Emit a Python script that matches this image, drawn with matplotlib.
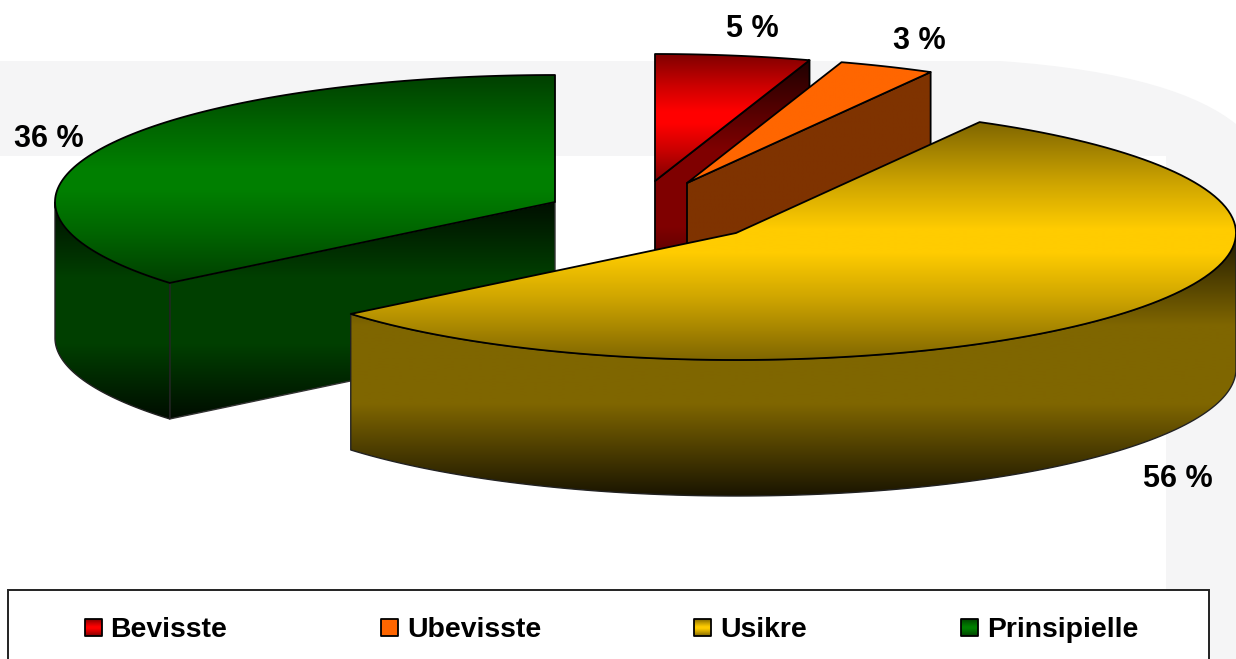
import numpy as np
import matplotlib
matplotlib.use("Agg")
import matplotlib.pyplot as plt
from matplotlib.path import Path
from matplotlib.patches import PathPatch, Rectangle

categories = ["Bevisste", "Ubevisste", "Usikre", "Prinsipielle"]
values = [5.0, 3.1, 55.9, 36.0]
colors = [(1, 0, 0), (1, 0.4, 0), (1, 0.8, 0), (0, 0.5, 0)]
centers = [(655, 181), (687, 183), (736, 233), (555, 202)]
label_pos = [(726, 37), (893, 49), (1143, 487), (14, 147)]
legend_swatch_x = [85, 381, 694, 961]
legend_text_x = [110, 407, 720, 987]
RX, RY, DEPTH = 500, 127, 136

plt.rcParams["font.family"] = ["Liberation Sans", "DejaVu Sans"]
fig = plt.figure(figsize=(12.36, 6.59), dpi=100)
ax = fig.add_axes([0, 0, 1, 1])
ax.set_axis_off()

TOP_STOPS = ([0, .25, .45, .55, .75, 1], [.5, .8, 1, 1, .8, .5])
WALL_STOPS = ([0, .35, .65, 1], [.12, .5, .5, .1])
FLAT_TOP = ([0, 1], [1, 1])
FLAT_WALL = ([0, 1], [.5, .5])


def rim(c, a0, a1, dy=0, n=120):
    ang = np.radians(np.linspace(a0, a1, n))
    return np.column_stack([c[0] + RX * np.sin(ang), c[1] - RY * np.cos(ang) + dy])


def face(pts, rgb, stops, z, lw=1.3, ec="black"):
    pts = np.asarray(pts)
    path = Path(np.vstack([pts, pts[:1]]), closed=True)
    x0, x1 = pts[:, 0].min(), pts[:, 0].max()
    y0, y1 = pts[:, 1].min(), pts[:, 1].max()
    t = np.linspace(0, 1, 256)
    m = np.interp(t, stops[0], stops[1])
    img = (m[:, None, None] * np.array(rgb)[None, None, :])
    im = ax.imshow(img, extent=(x0, x1, y1, y0), origin="upper", aspect="auto",
                   interpolation="bilinear", zorder=z)
    outline = PathPatch(path, fc="none", ec=ec, lw=lw, zorder=z + 0.1, joinstyle="round")
    ax.add_patch(outline)
    im.set_clip_path(PathPatch(path, transform=ax.transData))


# grey backdrop frame
bg = Path([(0, 61), (1000, 61), (1130, 70), (1200, 95), (1236, 124), (1236, 659),
           (1166, 659), (1166, 156), (0, 156), (0, 61)],
          [Path.MOVETO, Path.LINETO, Path.CURVE4, Path.CURVE4, Path.CURVE4, Path.LINETO,
           Path.LINETO, Path.LINETO, Path.LINETO, Path.CLOSEPOLY])
ax.add_patch(PathPatch(bg, fc="#f5f5f6", ec="none", zorder=0))

# slice angles, clockwise from twelve o'clock
edges = np.concatenate([[0], np.cumsum(values)]) * 360 / sum(values)
z_order = {3: 10, 0: 20, 1: 30, 2: 40}
for i, v in enumerate(values):
    a0, a1 = edges[i], edges[i + 1]
    c, rgb = centers[i], colors[i]
    z = z_order[i]
    top = np.vstack([[c], rim(c, a0, a1)])
    top_st = FLAT_TOP if i == 1 else TOP_STOPS
    wall_st = FLAT_WALL if i == 1 else WALL_STOPS
    # straight cut walls that face the viewer
    if i in (0, 1):
        p = rim(c, a1, a1, n=1)[0]
        face([c, p, (p[0], p[1] + DEPTH), (c[0], c[1] + DEPTH)], rgb, wall_st, z)
    if i == 3:
        p = rim(c, a0, a0, n=1)[0]
        face([c, p, (p[0], p[1] + DEPTH), (c[0], c[1] + DEPTH)], rgb, wall_st, z, lw=1.0, ec="#333333")
    # curved outer wall, only where it faces the viewer
    s0, s1 = max(a0, 90), min(a1, 270)
    if s1 > s0:
        upper = rim(c, s0, s1)
        lower = rim(c, s0, s1, dy=DEPTH)[::-1]
        face(np.vstack([upper, lower]), rgb, wall_st, z + 1, lw=1.0, ec="#222222")
    face(top, rgb, top_st, z + 2)

# value labels
for v, (x, y) in zip(values, label_pos):
    ax.text(x, y, f"{v:.0f} %", fontsize=22, fontweight="bold", color="black",
            ha="left", va="baseline", zorder=60)

# legend
ax.add_patch(Rectangle((8, 589.5), 1201, 90, fc="white", ec="#222222", lw=1.4, zorder=50))
for i, name in enumerate(categories):
    sx = legend_swatch_x[i]
    st = FLAT_TOP if i == 1 else TOP_STOPS
    face([(sx, 619), (sx + 17, 619), (sx + 17, 636), (sx, 636)], colors[i], st, 55)
    ax.text(legend_text_x[i], 637, name, fontsize=20.4, fontweight="bold",
            ha="left", va="baseline", zorder=60)

ax.set_xlim(0, 1236)
ax.set_ylim(659, 0)
fig.savefig("out.png", dpi=100, facecolor="white")
